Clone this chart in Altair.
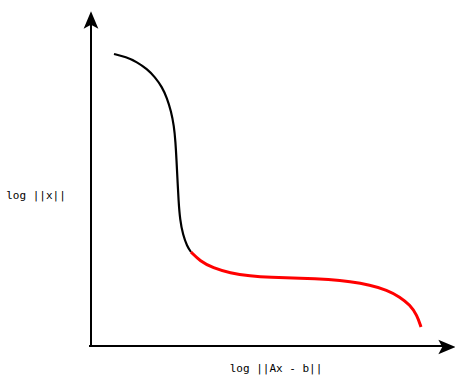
import altair as alt
import pandas as pd

# Diagram coordinates (y grows downward)
black_x = [114, 126, 137, 147, 155, 162, 167, 171, 174, 175.5, 176.5, 177.5, 178.5, 180, 183, 187, 191]
black_y = [54, 57, 62, 69, 77, 87, 98, 111, 126, 142, 160, 180, 200, 220, 235, 246, 252]
red_x = [191, 200, 213, 230, 250, 270, 300, 330, 350, 370, 387, 400, 410, 417, 421]
red_y = [252, 261, 268, 273, 276, 277.5, 278, 279.5, 281.5, 285, 290, 297, 305, 315, 327]

axis_x1 = [91, 89]
axis_y1 = [346, 346]
axis_x2 = [91, 446]
axis_y2 = [24, 346]
arrow_x = [91, 447]
arrow_y = [20, 347]
arrow_angle = [0, 90]

labels = ["log ||x||", "log ||Ax - b||"]
label_x = [36, 276]
label_y = [196, 369]

W, H = 455, 375
xs = alt.Scale(domain=[0, W], range=[0, W])
ys = alt.Scale(domain=[0, H], range=[0, H])

black = pd.DataFrame({"x": black_x, "y": black_y, "i": range(len(black_x))})
red = pd.DataFrame({"x": red_x, "y": red_y, "i": range(len(red_x))})
axes = pd.DataFrame({"x": axis_x1, "y": axis_y1, "x2": axis_x2, "y2": axis_y2})
arrows = pd.DataFrame({"x": arrow_x, "y": arrow_y, "a": arrow_angle})
txt = pd.DataFrame({"t": labels, "x": label_x, "y": label_y})

X = lambda f="x": alt.X(f, type="quantitative", scale=xs, axis=None)
Y = lambda f="y": alt.Y(f, type="quantitative", scale=ys, axis=None)

rules = alt.Chart(axes).mark_rule(color="black", strokeWidth=2).encode(
    x=X(), y=Y(), x2="x2", y2="y2")

arrow_path = "M0,-1 L0.85,1 L0,0.55 L-0.85,1 Z"
heads = alt.Chart(arrows).mark_point(shape=arrow_path, filled=True, color="black",
                                     opacity=1, size=300, strokeWidth=0).encode(
    x=X(), y=Y(), angle=alt.Angle("a:Q", scale=None))

bl = alt.Chart(black).mark_line(color="black", strokeWidth=2.2, interpolate="basis").encode(
    x=X(), y=Y(), order="i:Q")
rd = alt.Chart(red).mark_line(color="#ff0000", strokeWidth=3, interpolate="basis").encode(
    x=X(), y=Y(), order="i:Q")

text = alt.Chart(txt).mark_text(font="DejaVu Sans Mono", fontSize=11, color="black",
                                align="center", baseline="middle").encode(
    x=X(), y=Y(), text="t:N")

chart = alt.layer(rules, bl, rd, heads, text).properties(
    width=W, height=H, padding=0, autosize=alt.AutoSizeParams(type="none")
).configure_view(stroke=None)

chart.save("out.html", embed_options={"renderer": "svg", "actions": False})
